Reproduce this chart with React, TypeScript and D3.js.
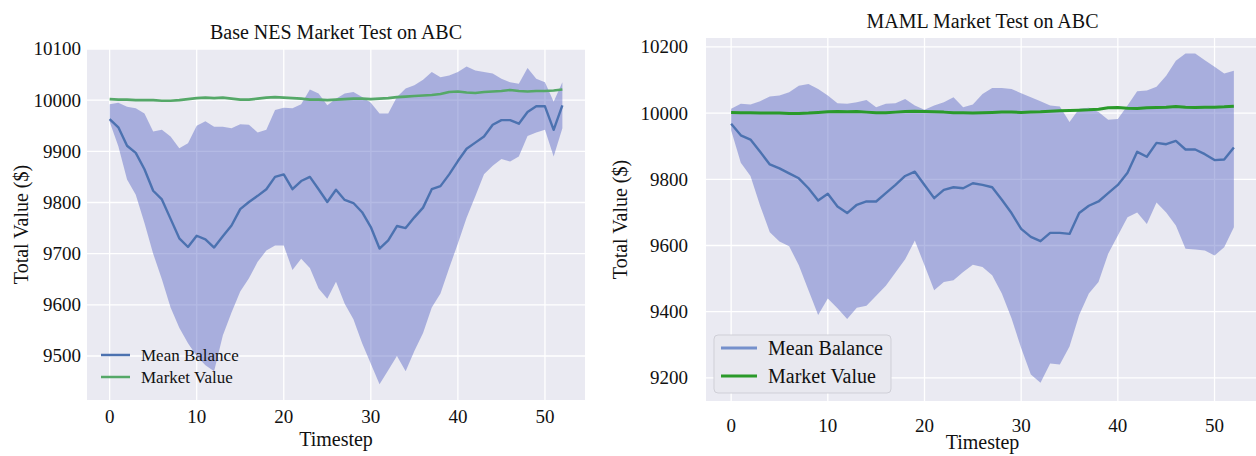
import * as d3 from 'd3'

const TIMESTEPS = d3.range(0, 53)
const X_TICKS = [0, 10, 20, 30, 40, 50]
const NES_Y_TICKS = [9500, 9600, 9700, 9800, 9900, 10000, 10100]
const MAML_Y_TICKS = [9200, 9400, 9600, 9800, 10000, 10200]
const LEGEND_LABELS = ['Mean Balance', 'Market Value']

// market value is the same ABC series in both tests
const MARKET = [
  10002, 10001, 10001, 10000, 10000, 10000, 9999, 9999, 10000, 10002,
  10004, 10005, 10004, 10005, 10003, 10001, 10001, 10003, 10005, 10006,
  10005, 10004, 10003, 10001, 10001, 10000, 10001, 10002, 10003, 10003,
  10002, 10003, 10004, 10006, 10007, 10008, 10009, 10010, 10012, 10016,
  10017, 10015, 10014, 10016, 10017, 10018, 10020, 10018, 10017, 10018,
  10018, 10019, 10021,
]

const NES_MEAN = [
  9963, 9947, 9911, 9897, 9865, 9823, 9806, 9768, 9730, 9713,
  9735, 9728, 9712, 9734, 9755, 9787, 9801, 9813, 9826, 9850,
  9855, 9826, 9842, 9850, 9826, 9801, 9825, 9805, 9799, 9781,
  9752, 9710, 9726, 9754, 9750, 9771, 9790, 9826, 9832, 9855,
  9881, 9905, 9917, 9929, 9952, 9961, 9961, 9954, 9977, 9988,
  9988, 9942, 9990,
]
const NES_UPPER = [
  9992, 9995, 9987, 9984, 9974, 9939, 9942, 9929, 9906, 9916,
  9950, 9959, 9948, 9948, 9945, 9953, 9952, 9937, 9942, 9981,
  9985, 9984, 9992, 10021, 10013, 9990, 10003, 10013, 10016, 10006,
  9995, 9974, 9974, 10006, 10023, 10029, 10040, 10055, 10045, 10048,
  10055, 10066, 10058, 10055, 10052, 10042, 10035, 10032, 10063, 10042,
  10035, 9997, 10035,
]
const NES_LOWER = [
  9958, 9910, 9845, 9815, 9760, 9700, 9650, 9595, 9555, 9525,
  9500, 9482, 9470, 9540, 9585, 9626, 9652, 9684, 9706, 9716,
  9716, 9668, 9690, 9672, 9632, 9612, 9645, 9602, 9572, 9525,
  9485, 9445, 9472, 9500, 9470, 9510, 9545, 9595, 9622, 9672,
  9720, 9770, 9812, 9855, 9872, 9885, 9880, 9890, 9930, 9937,
  9942, 9890, 9945,
]

const MAML_MEAN = [
  9968, 9933, 9920, 9883, 9845, 9833, 9818, 9803, 9773, 9736,
  9756, 9718, 9698, 9723, 9733, 9733, 9758, 9783, 9810, 9823,
  9783, 9743, 9768, 9776, 9773, 9788, 9783, 9776, 9738, 9698,
  9650, 9626, 9613, 9638, 9638, 9635, 9698, 9720, 9733, 9758,
  9783, 9820, 9883, 9868, 9910, 9906, 9916, 9890, 9890, 9876,
  9858, 9860, 9896,
]
const MAML_UPPER = [
  10013, 10028, 10026, 10036, 10050, 10053, 10063, 10083, 10088, 10073,
  10053, 10030, 10028, 10033, 10040, 10018, 10028, 10030, 10043, 10023,
  10010, 10023, 10033, 10048, 10018, 10026, 10058, 10076, 10076, 10073,
  10060, 10048, 10036, 10023, 10020, 9973, 10013, 10016, 10003, 9980,
  9982, 10023, 10066, 10068, 10080, 10113, 10158, 10180, 10180, 10160,
  10140, 10120, 10128,
]
const MAML_LOWER = [
  9948, 9850, 9810, 9720, 9640, 9612, 9598, 9540, 9465, 9390,
  9440, 9410, 9378, 9412, 9418, 9448, 9478, 9518, 9558, 9615,
  9540, 9465, 9490, 9495, 9520, 9542, 9535, 9510, 9455, 9380,
  9290, 9210, 9185, 9243, 9240, 9295, 9390, 9455, 9490, 9575,
  9630, 9685, 9700, 9665, 9730, 9700, 9660, 9590, 9588, 9585,
  9570, 9595, 9655,
]

const FONT = '"Liberation Serif", "DejaVu Serif", serif'
const BG = '#eaeaf2'
const BLUE = '#4c72b0'
const BAND = 'rgb(88,102,196)'

interface PanelProps {
  title: string
  mean: number[]
  upper: number[]
  lower: number[]
  market: number[]
  yDomain: [number, number]
  yTicks: number[]
  left: number
  right: number
  top: number
  bottom: number
  titleY: number
  tickGap: number
  xTickY: number
  xLabelY: number
  yLabelX: number
  green: string
  marketWidth: number
  boxedLegend: boolean
  legendX: number
  legendY: number
  legendFont: number
  legendBlue: string
}

function Panel(p: PanelProps) {
  const x = d3.scaleLinear().domain([-2.6, 54.6]).range([p.left, p.right])
  const y = d3.scaleLinear().domain(p.yDomain).range([p.bottom, p.top])

  const band = d3
    .area<number>()
    .x((t) => x(t))
    .y0((t) => y(p.lower[t]))
    .y1((t) => y(p.upper[t]))
  const meanLine = d3
    .line<number>()
    .x((t) => x(t))
    .y((t) => y(p.mean[t]))
  const marketLine = d3
    .line<number>()
    .x((t) => x(t))
    .y((t) => y(p.market[t]))

  const cx = (p.left + p.right) / 2
  const cy = (p.top + p.bottom) / 2
  const clipId = `clip-${p.left}`
  const lineLen = p.boxedLegend ? 36 : 29
  const rowGap = p.boxedLegend ? 28 : 22
  const legendColors = [p.legendBlue, p.green]

  return (
    <g fontFamily={FONT} fill="#111">
      <clipPath id={clipId}>
        <rect x={p.left} y={p.top} width={p.right - p.left} height={p.bottom - p.top} />
      </clipPath>
      <rect x={p.left} y={p.top} width={p.right - p.left} height={p.bottom - p.top} fill={BG} />

      {/* grid */}
      {X_TICKS.map((t) => (
        <line key={'gx' + t} x1={x(t)} x2={x(t)} y1={p.top} y2={p.bottom} stroke="#fff" strokeWidth={1.3} />
      ))}
      {p.yTicks.map((v) => (
        <line key={'gy' + v} x1={p.left} x2={p.right} y1={y(v)} y2={y(v)} stroke="#fff" strokeWidth={1.3} />
      ))}

      <g clipPath={`url(#${clipId})`}>
        <path d={band(TIMESTEPS) ?? ''} fill={BAND} fillOpacity={0.45} />
        <path d={meanLine(TIMESTEPS) ?? ''} fill="none" stroke={BLUE} strokeWidth={2.4} strokeLinejoin="round" />
        <path d={marketLine(TIMESTEPS) ?? ''} fill="none" stroke={p.green} strokeWidth={p.marketWidth} strokeLinejoin="round" />
      </g>

      {/* tick labels */}
      {X_TICKS.map((t) => (
        <text key={'tx' + t} x={x(t)} y={p.xTickY} textAnchor="middle" fontSize={19}>
          {t}
        </text>
      ))}
      {p.yTicks.map((v) => (
        <text key={'ty' + v} x={p.left - p.tickGap} y={y(v)} dy="0.34em" textAnchor="end" fontSize={19}>
          {v}
        </text>
      ))}

      <text x={cx} y={p.titleY} textAnchor="middle" fontSize={20}>
        {p.title}
      </text>
      <text x={cx} y={p.xLabelY} textAnchor="middle" fontSize={20}>
        Timestep
      </text>
      <text transform={`translate(${p.yLabelX},${cy}) rotate(-90)`} textAnchor="middle" fontSize={20}>
        Total Value ($)
      </text>

      {/* legend */}
      {p.boxedLegend && (
        <rect
          x={p.legendX - 7}
          y={p.legendY - 13}
          width={177}
          height={58}
          rx={4}
          fill="#e8e8ef"
          stroke="#cfcfd7"
          strokeWidth={1}
        />
      )}
      {LEGEND_LABELS.map((label, i) => (
        <g key={label}>
          <line
            x1={p.legendX}
            x2={p.legendX + lineLen}
            y1={p.legendY + i * rowGap}
            y2={p.legendY + i * rowGap}
            stroke={legendColors[i]}
            strokeWidth={p.boxedLegend ? 3 : 2.5}
          />
          <text
            x={p.legendX + lineLen + (p.boxedLegend ? 11 : 11)}
            y={p.legendY + i * rowGap}
            dy="0.34em"
            fontSize={p.legendFont}
          >
            {label}
          </text>
        </g>
      ))}
    </g>
  )
}

export default function App() {
  return (
    <svg
      width={1256}
      height={456}
      style={{ position: 'absolute', left: 0, top: 0, background: '#fff' }}
    >
      <Panel
        title="Base NES Market Test on ABC"
        mean={NES_MEAN}
        upper={NES_UPPER}
        lower={NES_LOWER}
        market={MARKET}
        yDomain={[9414, 10100]}
        yTicks={NES_Y_TICKS}
        left={87}
        right={585}
        top={49}
        bottom={400}
        titleY={39}
        tickGap={6}
        xTickY={423}
        xLabelY={446}
        yLabelX={28}
        green="#55a868"
        marketWidth={2.6}
        boxedLegend={false}
        legendX={101}
        legendY={355}
        legendFont={17}
        legendBlue={BLUE}
      />
      <Panel
        title="MAML Market Test on ABC"
        mean={MAML_MEAN}
        upper={MAML_UPPER}
        lower={MAML_LOWER}
        market={MARKET}
        yDomain={[9130, 10227]}
        yTicks={MAML_Y_TICKS}
        left={706}
        right={1259}
        top={38}
        bottom={401}
        titleY={28}
        tickGap={18}
        xTickY={432}
        xLabelY={449}
        yLabelX={627}
        green="#2a9a2a"
        marketWidth={3}
        boxedLegend={true}
        legendX={721}
        legendY={348}
        legendFont={20}
        legendBlue="#7590cc"
      />
    </svg>
  )
}
